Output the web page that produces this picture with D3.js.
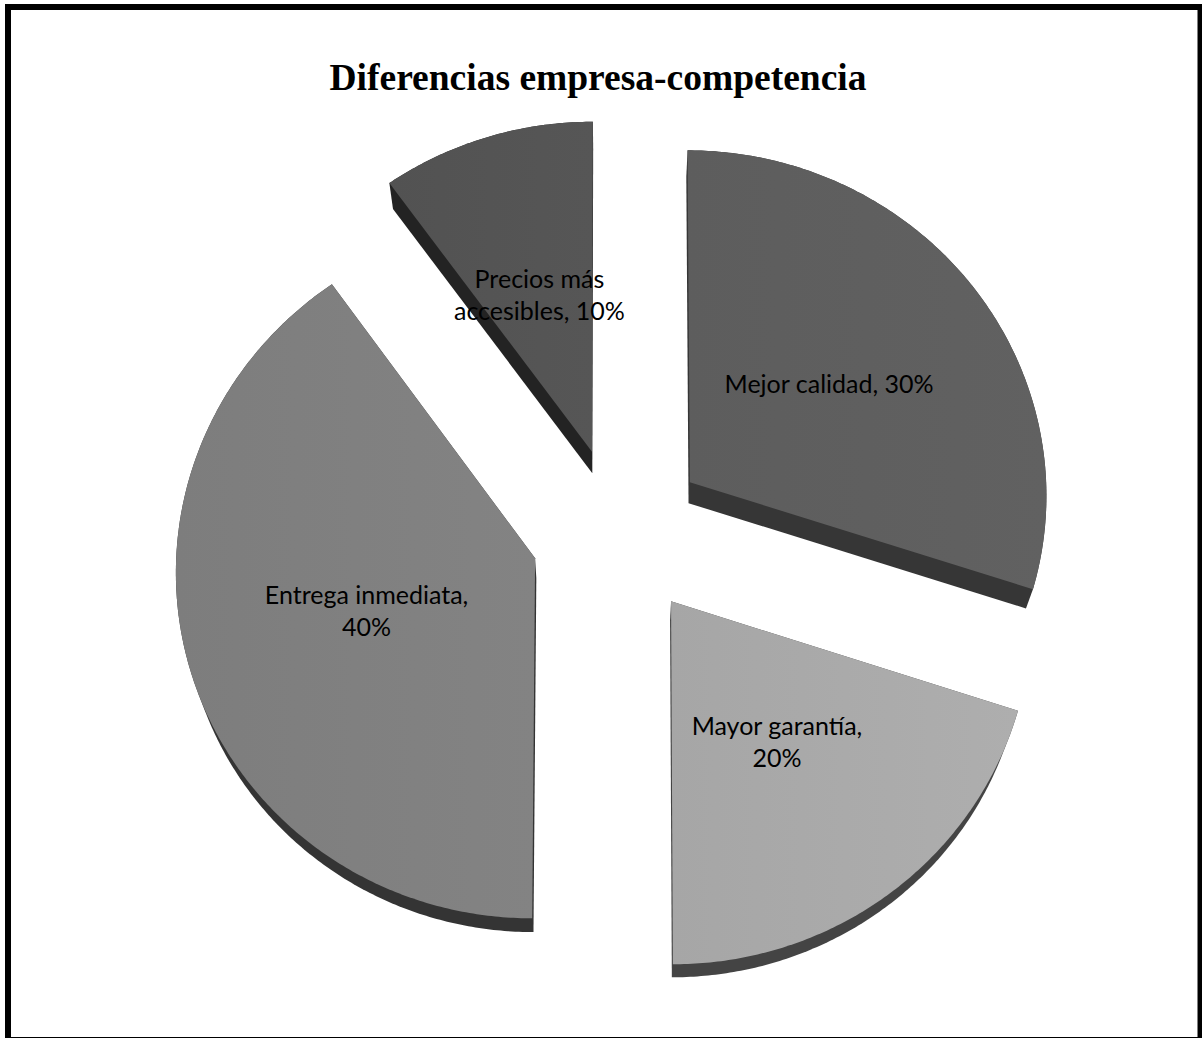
<!DOCTYPE html>
<html>
<head>
<meta charset="utf-8">
<script src="https://cdn.jsdelivr.net/npm/d3@7"></script>
<style>
  html, body { margin: 0; padding: 0; background: #fff; }
  svg { display: block; }
</style>
</head>
<body>
<script>
// --- data -------------------------------------------------------------
const categories = ["Mejor calidad", "Mayor garantía", "Entrega inmediata", "Precios más accesibles"];
const values = [30, 20, 40, 10];
// data label text, one entry per line as the labels wrap
const labelLines = [
  ["Mejor calidad, 30%"],
  ["Mayor garantía,", "20%"],
  ["Entrega inmediata,", "40%"],
  ["Precios más", "accesibles, 10%"]
];
const topColors  = ["#5f5f5f", "#aaaaaa", "#808080", "#545454"];
const sideColors = ["#363636", "#444444", "#343434", "#232323"];
const title = "Diferencias empresa-competencia";

// --- layout -----------------------------------------------------------
const W = 1202, H = 1038;
const center = { x: 619, y: 532 };
const radius = 358;          // pie radius in the pie plane
const explode = 88;          // distance every wedge is pulled out
const tilt = 0.967;          // foreshortening of the tilted plane
const persp = 9.3e-5;        // perspective strength (near side larger)
const vanish = { x: 610, y: 1753 }; // vanishing point of the pie thickness
const depth = 0.0165;        // thickness as a fraction towards the vanishing point
const labelFrac = 0.49;      // label distance from the wedge tip

const svg = d3.select("body").append("svg")
  .attr("width", W).attr("height", H);

svg.append("rect").attr("width", W).attr("height", H).attr("fill", "#fff");

// project pie-plane coordinates (u right, v towards the viewer) to screen
function project(u, v) {
  const w = 1 - persp * v;
  return [center.x + u / w, center.y + tilt * v / w];
}
// bottom face point for a top face point
function extrude(p) {
  return [p[0] + depth * (vanish.x - p[0]), p[1] + depth * (vanish.y - p[1])];
}

const pie = d3.pie().sort(null).startAngle(0).endAngle(2 * Math.PI);
const arcs = pie(values);
const line = d3.line().curve(d3.curveLinearClosed);

const slices = arcs.map((a, i) => {
  const mid = (a.startAngle + a.endAngle) / 2;
  const ou = explode * Math.sin(mid), ov = -explode * Math.cos(mid);
  const n = Math.max(8, Math.ceil((a.endAngle - a.startAngle) / 0.01));
  const angles = d3.range(n + 1).map(k => a.startAngle + (a.endAngle - a.startAngle) * k / n);
  const top = [project(ou, ov)].concat(
    angles.map(t => project(ou + radius * Math.sin(t), ov - radius * Math.cos(t))));
  const bottom = top.map(extrude);
  const hull = d3.polygonHull(top.concat(bottom));
  const lr = labelFrac * radius;
  const label = project(ou + lr * Math.sin(mid), ov - lr * Math.cos(mid));
  return { i, top, hull, label, mid };
});

// gradients for a soft sheen on the top faces
const defs = svg.append("defs");
slices.forEach(s => {
  const g = defs.append("linearGradient").attr("id", "g" + s.i)
    .attr("x1", "0%").attr("y1", "0%").attr("x2", "100%").attr("y2", "0%");
  const c = d3.color(topColors[s.i]);
  g.append("stop").attr("offset", "0%").attr("stop-color", c.darker(0.06));
  g.append("stop").attr("offset", "100%").attr("stop-color", c.brighter(0.06));
});

const gPie = svg.append("g");
const sliceG = gPie.selectAll("g.slice").data(slices).join("g").attr("class", "slice");
sliceG.append("path").attr("d", d => line(d.hull)).attr("fill", d => sideColors[d.i]);
sliceG.append("path").attr("d", d => line(d.top)).attr("fill", d => `url(#g${d.i})`);

// data labels
const lineH = 32;
const labels = svg.append("g")
  .attr("font-family", "Lato, 'Open Sans', sans-serif")
  .attr("font-size", 25)
  .attr("fill", "#000")
  .attr("text-anchor", "middle");
slices.forEach(s => {
  const lines = labelLines[s.i];
  const t = labels.append("text")
    .attr("x", s.label[0])
    .attr("y", s.label[1] - (lines.length - 1) * lineH / 2);
  lines.forEach((ln, k) => {
    t.append("tspan").attr("x", s.label[0]).attr("dy", k === 0 ? "0.35em" : lineH).text(ln);
  });
});

// title
svg.append("text")
  .attr("x", 598).attr("y", 90)
  .attr("text-anchor", "middle")
  .attr("font-family", "'Liberation Serif', 'Times New Roman', serif")
  .attr("font-weight", "bold")
  .attr("font-size", 37.5)
  .attr("fill", "#000")
  .text(title);

// chart frame
svg.append("rect")
  .attr("x", 8).attr("y", 7)
  .attr("width", 1192.5).attr("height", 1033)
  .attr("fill", "none").attr("stroke", "#000").attr("stroke-width", 6);
</script>
</body>
</html>
